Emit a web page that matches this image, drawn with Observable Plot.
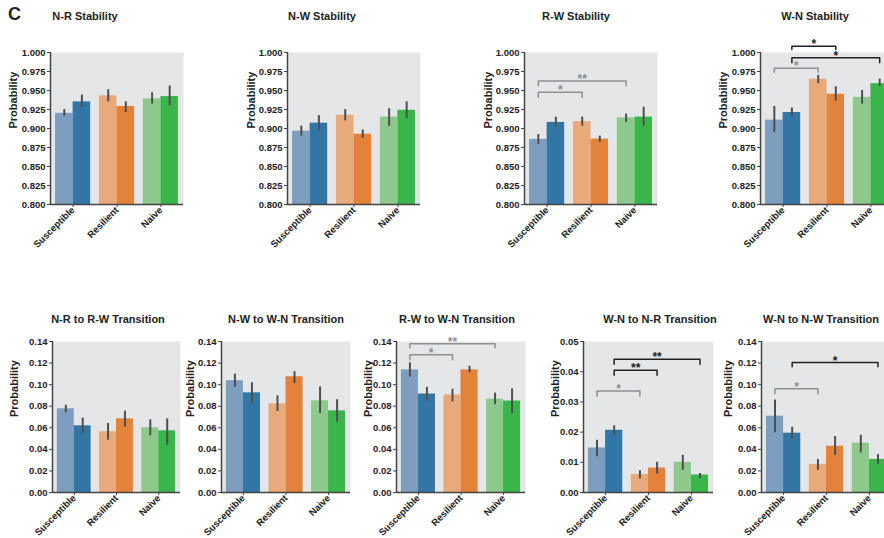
<!DOCTYPE html>
<html><head><meta charset="utf-8">
<script src="https://cdn.jsdelivr.net/npm/d3@7"></script>
<script src="https://cdn.jsdelivr.net/npm/@observablehq/plot@0.6"></script>
<style>
body{margin:0;background:#fff;}
#fig{position:relative;width:884px;height:538px;overflow:hidden;font-family:"Liberation Sans",Arial,sans-serif;background:#fff;}
.ttl{position:absolute;font-weight:bold;font-size:11px;color:#222;white-space:nowrap;transform:translate(-50%,-50%);}
.lbl{position:absolute;font-weight:bold;font-size:18px;color:#222;}
#fig svg{position:absolute;}
</style></head><body><div id="fig"></div>
<script>
// ---------- data ----------
const groups = ["Susceptible", "Resilient", "Naive"];
// bar order in every array: Susceptible (light, dark), Resilient (light, dark), Naive (light, dark)
const titles = ["N-R Stability", "N-W Stability", "R-W Stability", "W-N Stability",
  "N-R to R-W Transition", "N-W to W-N Transition", "R-W to W-N Transition",
  "W-N to N-R Transition", "W-N to N-W Transition"];

const stabTicks = [0.8, 0.825, 0.85, 0.875, 0.9, 0.925, 0.95, 0.975, 1.0];
const transTicks = [0, 0.02, 0.04, 0.06, 0.08, 0.1, 0.12, 0.14];
const smallTicks = [0, 0.01, 0.02, 0.03, 0.04, 0.05];

const nrStabMean = [0.920, 0.935, 0.943, 0.929, 0.939, 0.942];
const nrStabLo   = [0.916, 0.928, 0.935, 0.921, 0.932, 0.930];
const nrStabHi   = [0.925, 0.944, 0.951, 0.935, 0.947, 0.956];

const nwStabMean = [0.8965, 0.907, 0.9175, 0.8925, 0.915, 0.924];
const nwStabLo   = [0.890, 0.897, 0.910, 0.887, 0.903, 0.913];
const nwStabHi   = [0.903, 0.917, 0.925, 0.898, 0.926, 0.935];

const rwStabMean = [0.8857, 0.908, 0.909, 0.886, 0.914, 0.915];
const rwStabLo   = [0.879, 0.902, 0.903, 0.882, 0.908, 0.903];
const rwStabHi   = [0.892, 0.915, 0.915, 0.890, 0.919, 0.928];

const wnStabMean = [0.911, 0.921, 0.965, 0.945, 0.941, 0.959];
const wnStabLo   = [0.895, 0.914, 0.959, 0.936, 0.932, 0.955];
const wnStabHi   = [0.929, 0.927, 0.970, 0.955, 0.950, 0.965];

const nrRwMean = [0.0776, 0.0618, 0.0563, 0.0683, 0.0600, 0.0572];
const nrRwLo   = [0.0739, 0.0540, 0.0485, 0.0609, 0.0526, 0.0439];
const nrRwHi   = [0.0810, 0.0690, 0.0640, 0.0754, 0.0674, 0.0683];

const nwWnMean = [0.1036, 0.0924, 0.0822, 0.1073, 0.0850, 0.0757];
const nwWnLo   = [0.0974, 0.0825, 0.0751, 0.1010, 0.0733, 0.0650];
const nwWnHi   = [0.1097, 0.1017, 0.0896, 0.1120, 0.0980, 0.0860];

const rwWnMean = [0.1137, 0.0913, 0.0904, 0.1137, 0.0866, 0.0848];
const rwWnLo   = [0.1071, 0.0848, 0.0842, 0.1109, 0.0814, 0.0730];
const rwWnHi   = [0.1202, 0.0975, 0.0957, 0.1170, 0.0922, 0.0960];

const wnNrMean = [0.01475, 0.0206, 0.0060, 0.0081, 0.0100, 0.0058];
const wnNrLo   = [0.0118, 0.0191, 0.0045, 0.0061, 0.0073, 0.0045];
const wnNrHi   = [0.0173, 0.0221, 0.0072, 0.0100, 0.0123, 0.0063];

const wnNwMean = [0.0708, 0.0550, 0.0261, 0.0429, 0.0457, 0.0307];
const wnNwLo   = [0.0553, 0.0494, 0.0205, 0.0345, 0.0366, 0.0261];
const wnNwHi   = [0.0857, 0.0606, 0.0307, 0.0519, 0.0531, 0.0351];

// significance brackets: bar index from -> to, bracket level, leg end, label, tone
const rwStabSig = [
  {from: 0, to: 2, y: 0.9478, leg: 0.9411, label: "*", tone: "light"},
  {from: 0, to: 4, y: 0.9625, leg: 0.9563, label: "**", tone: "light"}];
const wnStabSig = [
  {from: 1, to: 3, y: 1.0083, leg: 1.0040, label: "*", tone: "dark"},
  {from: 1, to: 5, y: 0.9930, leg: 0.9864, label: "*", tone: "dark"},
  {from: 0, to: 2, y: 0.9793, leg: 0.9740, label: "*", tone: "light"}];
const rwWnSig = [
  {from: 0, to: 2, y: 0.1277, leg: 0.1230, label: "*", tone: "light"},
  {from: 0, to: 4, y: 0.1379, leg: 0.1342, label: "**", tone: "light"}];
const wnNrSig = [
  {from: 0, to: 2, y: 0.0336, leg: 0.0319, label: "*", tone: "light"},
  {from: 1, to: 3, y: 0.0405, leg: 0.0388, label: "**", tone: "dark"},
  {from: 1, to: 5, y: 0.0441, leg: 0.0425, label: "**", tone: "dark"}];
const wnNwSig = [
  {from: 0, to: 2, y: 0.0963, leg: 0.0916, label: "*", tone: "light"},
  {from: 1, to: 5, y: 0.1205, leg: 0.1165, label: "*", tone: "dark"}];

// ---------- styles / layout ----------
const barColors = ["#7d9ebf", "#3176a5", "#e8aa7a", "#e3823a", "#8cc98a", "#3ab54a"];
const toneColor = {light: "#8f8f8f", dark: "#222222"};

const panels = [
  {mean: nrStabMean, lo: nrStabLo, hi: nrStabHi, sig: [], ticks: stabTicks, fmt: ".3f"},
  {mean: nwStabMean, lo: nwStabLo, hi: nwStabHi, sig: [], ticks: stabTicks, fmt: ".3f"},
  {mean: rwStabMean, lo: rwStabLo, hi: rwStabHi, sig: rwStabSig, ticks: stabTicks, fmt: ".3f"},
  {mean: wnStabMean, lo: wnStabLo, hi: wnStabHi, sig: wnStabSig, ticks: stabTicks, fmt: ".3f"},
  {mean: nrRwMean, lo: nrRwLo, hi: nrRwHi, sig: [], ticks: transTicks, fmt: ".2f"},
  {mean: nwWnMean, lo: nwWnLo, hi: nwWnHi, sig: [], ticks: transTicks, fmt: ".2f"},
  {mean: rwWnMean, lo: rwWnLo, hi: rwWnHi, sig: rwWnSig, ticks: transTicks, fmt: ".2f"},
  {mean: wnNrMean, lo: wnNrLo, hi: wnNrHi, sig: wnNrSig, ticks: smallTicks, fmt: ".2f"},
  {mean: wnNwMean, lo: wnNwLo, hi: wnNwHi, sig: wnNwSig, ticks: transTicks, fmt: ".2f"}
];
const layout = [
  {left: 50, top: 52, w: 133, h: 152, labelDx: 37, tx: 85, ty: 16},
  {left: 287, top: 52, w: 133, h: 152, labelDx: 36, tx: 322, ty: 16},
  {left: 524, top: 52, w: 133, h: 152, labelDx: 36, tx: 576, ty: 16},
  {left: 760, top: 52, w: 133, h: 152, labelDx: 37, tx: 815, ty: 16},
  {left: 52, top: 341, w: 128, h: 151, labelDx: 38, tx: 108, ty: 319},
  {left: 221, top: 341, w: 129, h: 151, labelDx: 31, tx: 286, ty: 319},
  {left: 396, top: 341, w: 129, h: 151, labelDx: 28, tx: 457, ty: 319},
  {left: 583, top: 341, w: 130, h: 151, labelDx: 28, tx: 660, ty: 319},
  {left: 761, top: 341, w: 130, h: 151, labelDx: 33, tx: 821, ty: 319}
];
const M = {l: 60, r: 10, t: 35, b: 70};
const xDomain = [-0.515, 2.515];
const barX = k => Math.floor(k / 2) - 0.2 + (k % 2) * 0.4;

const fig = document.getElementById("fig");
const c = document.createElement("div");
c.className = "lbl"; c.textContent = "C";
c.style.left = "8px"; c.style.top = "4px";
fig.appendChild(c);

panels.forEach((p, i) => {
  const L = layout[i];
  const yDomain = [p.ticks[0], p.ticks[p.ticks.length - 1]];
  const rows = p.mean.map((v, k) => ({k, g: Math.floor(k / 2), s: k % 2, v, lo: p.lo[k], hi: p.hi[k]}));
  const marks = [
    Plot.frame({fill: "#e5e6e8", stroke: "none"}),
    Plot.rect(rows, {
      x1: d => d.g - 0.4 + d.s * 0.4, x2: d => d.g + d.s * 0.4,
      y1: yDomain[0], y2: "v", fill: d => barColors[d.k]
    }),
    Plot.ruleX(rows, {x: d => barX(d.k), y1: "lo", y2: "hi", stroke: "#4f4f4f", strokeWidth: 2}),
    Plot.ruleX([xDomain[0]], {stroke: "#444", strokeWidth: 1.5}),
    Plot.ruleY([yDomain[0]], {stroke: "#444", strokeWidth: 1.5}),
    Plot.axisY({ticks: p.ticks, tickFormat: d3.format(p.fmt), tickSize: 3, tickPadding: 2,
      fontSize: 9.5, fontWeight: "bold", label: null, stroke: "#444"}),
    Plot.axisX({ticks: [0, 1, 2], tickFormat: t => groups[t], tickRotate: -45, tickSize: 3,
      tickPadding: 1, fontSize: 9.5, fontWeight: "bold", label: null, stroke: "#444"}),
    Plot.text(["Probability"], {frameAnchor: "left", rotate: -90, dx: -L.labelDx,
      fontSize: 11, fontWeight: "bold", fill: "#222"})
  ];
  p.sig.forEach(b => {
    const pts = [
      {x: barX(b.from), y: b.leg}, {x: barX(b.from), y: b.y},
      {x: barX(b.to), y: b.y}, {x: barX(b.to), y: b.leg}];
    marks.push(Plot.line(pts, {x: "x", y: "y", stroke: toneColor[b.tone], strokeWidth: 1.5}));
    marks.push(Plot.text([b], {x: d => (barX(d.from) + barX(d.to)) / 2, y: "y", text: "label",
      lineAnchor: "bottom", dy: 2, fontSize: 12, fontWeight: "bold", fill: toneColor[b.tone]}));
  });
  const svg = Plot.plot({
    width: M.l + L.w + M.r, height: M.t + L.h + M.b,
    marginLeft: M.l, marginRight: M.r, marginTop: M.t, marginBottom: M.b,
    x: {domain: xDomain},
    y: {domain: yDomain},
    color: {type: "identity"},
    style: {background: "transparent", overflow: "visible", fontFamily: "'Liberation Sans', Arial, sans-serif",
      color: "#222", maxWidth: "none"},
    marks
  });
  svg.style.left = (L.left - M.l) + "px";
  svg.style.top = (L.top - M.t) + "px";
  fig.appendChild(svg);
  const t = document.createElement("div");
  t.className = "ttl"; t.textContent = titles[i];
  t.style.left = L.tx + "px"; t.style.top = L.ty + "px";
  fig.appendChild(t);
});
</script></body></html>
